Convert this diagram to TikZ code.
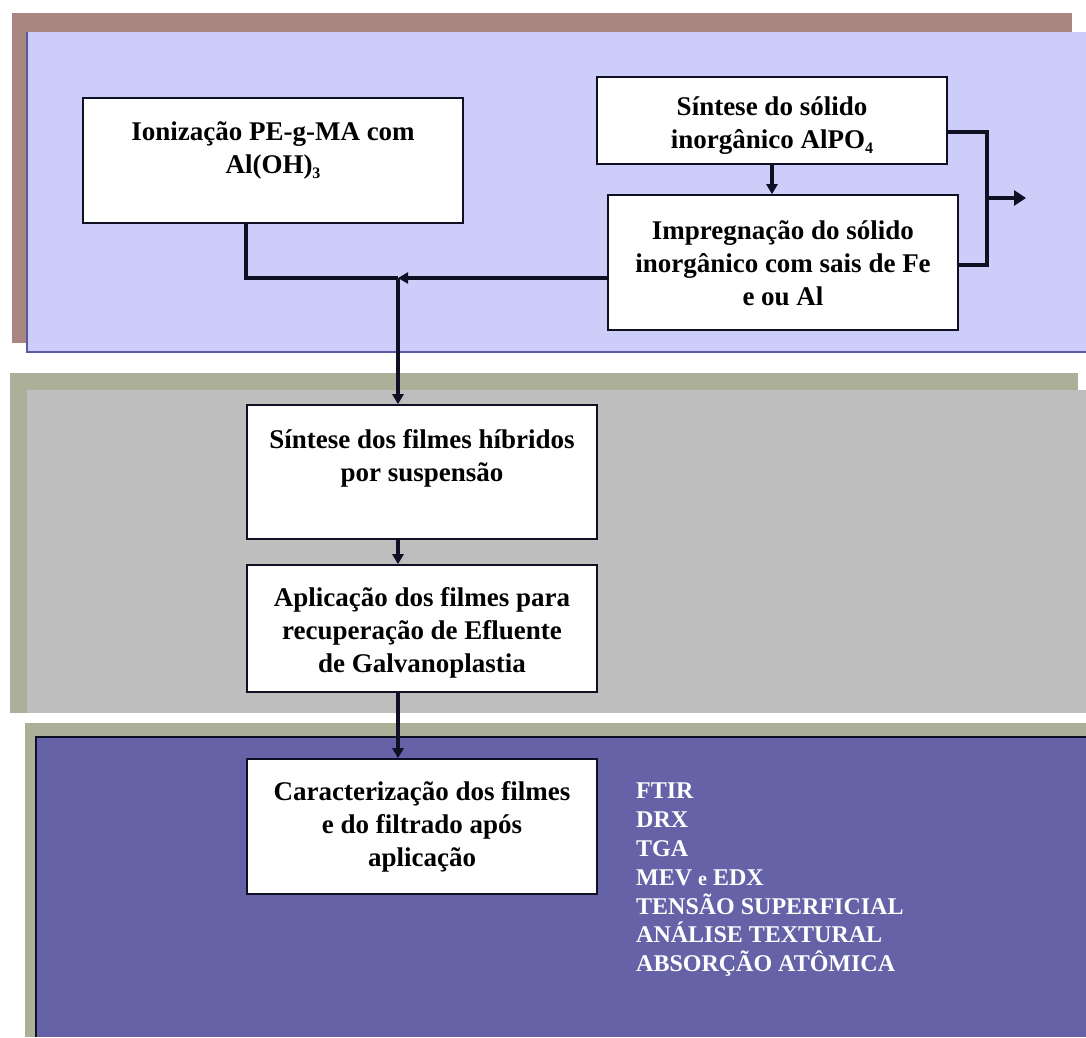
\documentclass[tikz,border=0pt]{standalone}
\usepackage{fontspec}
\setmainfont{Liberation Serif}
\usetikzlibrary{arrows.meta,calc}
\definecolor{brownc}{HTML}{A98682}
\definecolor{lav}{HTML}{CDCDF9}
\definecolor{greeng}{HTML}{ACB098}
\definecolor{grayc}{HTML}{BEBEBE}
\definecolor{dblue}{HTML}{6562A8}
\definecolor{connc}{HTML}{101024}
\newcommand{\mysub}[1]{\raisebox{-0.2em}{\fontsize{16}{16}\selectfont #1}}
\tikzset{
  box/.style={draw=connc, line width=1.6pt, fill=white, inner sep=0pt},
  txt/.style={align=center, inner sep=0pt, font=\fontsize{27}{33}\selectfont\bfseries},
  conn/.style={draw=connc, line width=3.2pt},
  tip/.style={-{Triangle[length=10pt,width=11pt]}},
  bigtip/.style={-{Triangle[length=12pt,width=15pt]}},
  listtxt/.style={align=left, inner sep=0pt, text=white, font=\fontsize{24}{28.8}\selectfont\bfseries}
}
\begin{document}
\begin{tikzpicture}[x=1pt,y=-1pt]
\useasboundingbox (0,0) rectangle (1086,1037);
% panels
\fill[white] (0,0) rectangle (1086,1037);
\fill[brownc] (12,13) rectangle (1072,343);
\fill[lav] (27,32) rectangle (1086,352);
\draw[gray!70!blue, line width=1.2pt] (27,32) -- (27,352) -- (1086,352);
\fill[greeng] (10,373) rectangle (1078,713);
\fill[grayc] (27,390) rectangle (1086,713);
\fill[greeng] (25,723) rectangle (1086,1037);
\fill[dblue] (36,737) rectangle (1086,1037);
\draw[connc, line width=1.2pt] (36,1037) -- (36,737) -- (1086,737);
% boxes
\node[box, minimum width=380pt, minimum height=125pt] (b1) at (273,160.5) {};
\node[box, minimum width=350pt, minimum height=87pt] (b2) at (772,120.5) {};
\node[box, minimum width=350pt, minimum height=135pt] (b3) at (783,262.5) {};
\node[box, minimum width=350pt, minimum height=134pt] (b4) at (422,472) {};
\node[box, minimum width=350pt, minimum height=127pt] (b5) at (422,628.5) {};
\node[box, minimum width=350pt, minimum height=135pt] (b6) at (422,826.5) {};
% texts
\node[txt] (t1) at (273,150) {Ionização PE-g-MA com\\Al(OH)\mysub{3}};
\node[txt] (t2) at (772,125.5) {Síntese do sólido\\inorgânico AlPO\mysub{4}};
\node[txt] (t3) at (783,263) {Impregnação do sólido\\inorgânico com sais de Fe\\e ou Al};
\node[txt] (t4) at (422,458) {Síntese dos filmes híbridos\\por suspensão};
\node[txt] (t5) at (422,633) {Aplicação dos filmes para\\recuperação de Efluente\\de Galvanoplastia};
\node[txt] (t6) at (422,827) {Caracterização dos filmes\\e do filtrado após\\aplicação};
\node[listtxt, anchor=north west] (list) at (636,783) {FTIR\\DRX\\TGA\\MEV {\fontsize{20}{20}\selectfont e} EDX\\TENSÃO SUPERFICIAL\\ANÁLISE TEXTURAL\\ABSORÇÃO ATÔMICA};
% connectors
\coordinate (j) at (398,278);
\coordinate (k) at (987,198);
\coordinate (out) at (1026,198);
\draw[conn] ([xshift=-27pt]b1.south) |- (j);
\draw[conn, tip] (b3.west |- j) -- (j);
\draw[conn, tip] (j) -- (j |- b4.north);
\draw[conn, tip] (b2.south) -- (b2.south |- b3.north);
\draw[conn] ([yshift=-11.5pt]b2.east) -| (k) |- ([yshift=-2.5pt]b3.east);
\draw[conn, bigtip] (k) -- (out);
\draw[conn, tip] (b4.south -| j) -- (b5.north -| j);
\draw[conn, tip] (b5.south -| j) -- (b6.north -| j);
\end{tikzpicture}
\end{document}
